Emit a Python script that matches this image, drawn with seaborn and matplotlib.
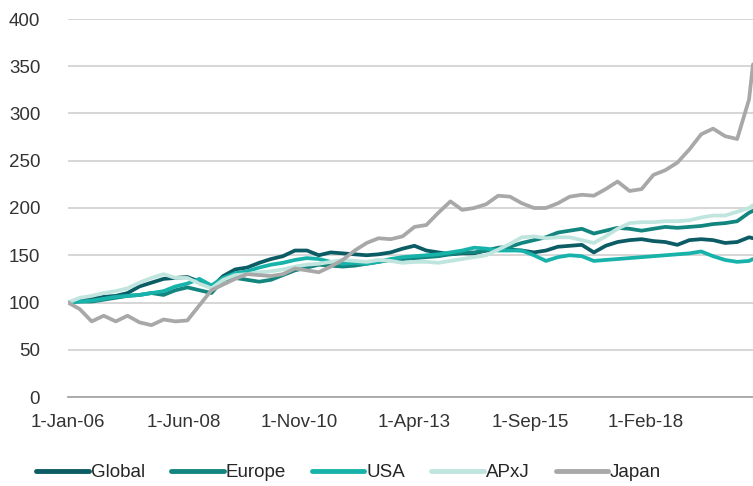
import pandas as pd
import numpy as np
import matplotlib
matplotlib.use("Agg")
import matplotlib.pyplot as plt
import matplotlib.dates as mdates
from matplotlib.ticker import FuncFormatter
import seaborn as sns

# quarterly readings, Jan-06 .. Apr-20, plus the last point (May-20)
dates = list(pd.date_range("2006-01-01", "2020-04-01", freq="QS")) + [pd.Timestamp("2020-05-01")]

global_idx = [100, 103, 104, 106, 107, 110, 117, 121, 125, 126,
              127, 122, 116, 128, 135, 137, 142, 146, 149, 155,
              155, 150, 153, 152, 151, 150, 151, 153, 157, 160,
              155, 153, 151, 152, 152, 155, 157, 156, 155, 153,
              155, 159, 160, 161, 153, 160, 164, 166, 167, 165,
              164, 161, 166, 167, 166, 163, 164, 169, 168]
europe = [100, 101, 101, 103, 105, 107, 108, 110, 108, 113,
          116, 113, 110, 124, 126, 124, 122, 124, 129, 134,
          137, 140, 139, 138, 139, 141, 143, 145, 146, 147,
          148, 149, 151, 153, 153, 155, 158, 159, 163, 166,
          169, 174, 176, 178, 173, 176, 179, 178, 176, 178,
          180, 179, 180, 181, 183, 184, 186, 195, 197]
usa = [100, 101, 102, 104, 106, 107, 108, 110, 112, 117,
       120, 125, 118, 126, 131, 133, 137, 140, 142, 145,
       147, 146, 143, 141, 142, 141, 143, 146, 148, 149,
       150, 151, 153, 155, 158, 157, 155, 155, 155, 150,
       144, 148, 150, 149, 144, 145, 146, 147, 148, 149,
       150, 151, 152, 154, 149, 145, 143, 144, 146]
apxj = [100, 105, 107, 110, 112, 115, 121, 126, 130, 126,
        126, 120, 115, 124, 129, 130, 132, 133, 135, 138,
        140, 141, 143, 145, 144, 143, 145, 144, 142, 143,
        143, 142, 144, 146, 148, 150, 156, 162, 169, 170,
        168, 169, 169, 166, 163, 170, 178, 184, 185, 185,
        186, 186, 187, 190, 192, 192, 196, 200, 203]
japan = [100, 93, 80, 86, 80, 86, 79, 76, 82, 80,
         81, 97, 113, 119, 125, 130, 129, 128, 130, 136,
         134, 132, 138, 145, 155, 163, 168, 167, 170, 180,
         182, 195, 207, 198, 200, 204, 213, 212, 205, 200,
         200, 205, 212, 214, 213, 220, 228, 218, 220, 235,
         240, 248, 262, 278, 284, 276, 273, 315, 352]

series = ["Global", "Europe", "USA", "APxJ", "Japan"]
colors = ["#0b5c64", "#13857f", "#17b3ab", "#bfe5de", "#a8a8a8"]

df = pd.DataFrame({"date": dates, "Global": global_idx, "Europe": europe,
                   "USA": usa, "APxJ": apxj, "Japan": japan})
long = df.melt(id_vars="date", var_name="region", value_name="value")

sns.set_style("white")
plt.rcParams["font.family"] = ["Liberation Sans", "DejaVu Sans"]

fig = plt.figure(figsize=(7.53, 4.86), dpi=100)
ax = fig.add_axes([68 / 753, 1 - 397 / 486, 1 - 68 / 753, (397 - 19) / 486])

sns.lineplot(data=long, x="date", y="value", hue="region", hue_order=series,
             palette=colors, linewidth=2.7, ax=ax)

ax.set_ylim(0, 400)
ax.set_yticks(range(0, 401, 50))
ax.set_xlim(dates[0], dates[-1])
ticks = pd.date_range("2006-01-01", periods=6, freq="29MS")
ax.set_xticks(ticks)
ax.xaxis.set_major_formatter(FuncFormatter(
    lambda v, p: (lambda d: f"{d.day}-{d:%b-%y}")(mdates.num2date(v))))

ax.grid(axis="y", color="#cfcfcf", linewidth=1.2)
ax.set_axisbelow(True)
for s in ["top", "right", "left"]:
    ax.spines[s].set_visible(False)
ax.spines["bottom"].set_color("#a6a6a6")
ax.spines["bottom"].set_linewidth(1.3)
ax.tick_params(axis="x", colors="#a6a6a6", length=6, width=1.2, labelcolor="#333333",
               labelsize=13.5, pad=6)
ax.tick_params(axis="y", length=0, labelcolor="#333333", labelsize=13.5, pad=20)
ax.set_xlabel("")
ax.set_ylabel("")

handles, labels = ax.get_legend_handles_labels()
ax.legend(handles, labels, loc="center", bbox_to_anchor=(0.41, -0.2),
          bbox_transform=ax.transAxes, ncol=5, frameon=False, fontsize=13.5,
          handlelength=2.8, handletextpad=0.1, columnspacing=1.4)
for line in ax.get_legend().get_lines():
    line.set_linewidth(3.5)

fig.savefig("out.png", dpi=100)
